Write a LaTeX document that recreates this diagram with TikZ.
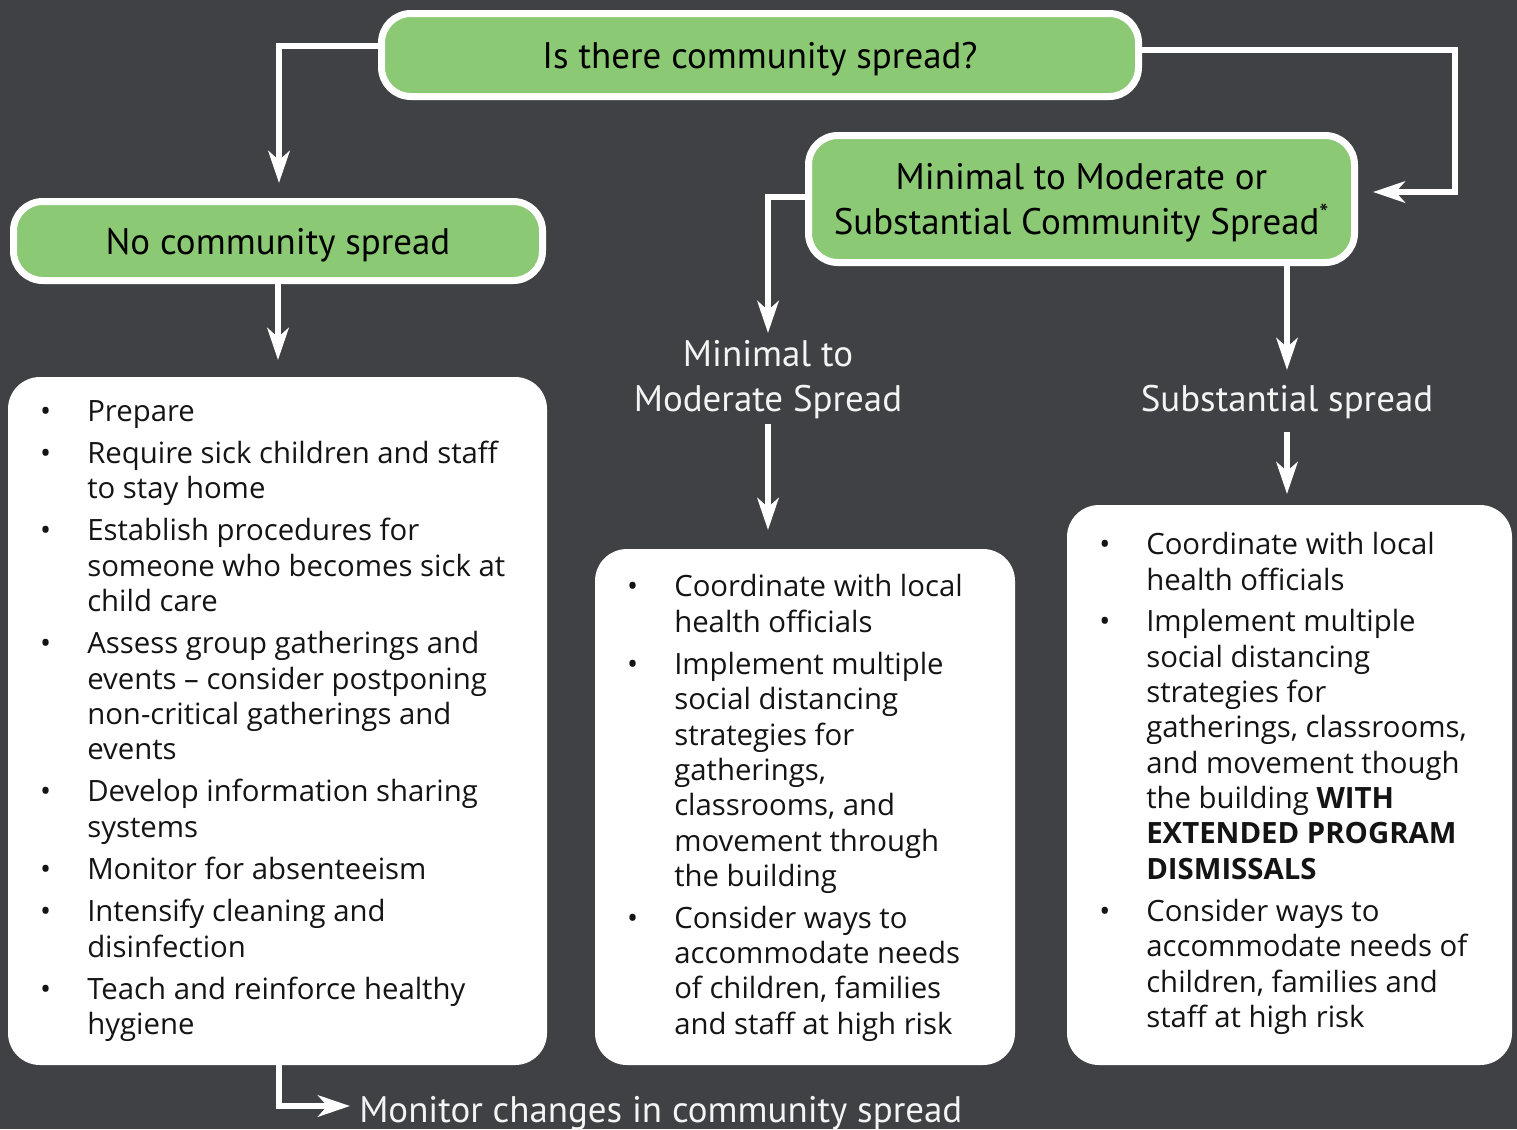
\documentclass[tikz,border=0pt]{standalone}
\usepackage{fontspec}
\setmainfont{Open Sans}
\newfontfamily\hfont{PT Sans}
\usetikzlibrary{arrows.meta,calc}
\definecolor{bg}{RGB}{64,65,69}
\definecolor{grn}{RGB}{139,201,117}
\definecolor{lbl}{RGB}{244,244,244}
\definecolor{txt}{RGB}{20,20,20}
\newcommand{\bul}{\llap{•\hspace{27pt}}}
\begin{document}
\begin{tikzpicture}[x=0.75pt,y=-0.75pt,
  gbox/.style={draw=white, line width=5.25pt, fill=grn, rounded corners=22pt, align=center,
     font=\hfont\fontsize{27.7}{33.75}\selectfont, text=black, inner sep=0pt, text depth=0pt},
  wbox/.style={fill=white, rounded corners=24pt, inner sep=0pt},
  arr/.style={draw=white, line width=4.5pt, -{Stealth[length=24pt,width=16pt,inset=7pt]}},
  item/.style={anchor=base west, align=left, inner sep=0pt, text=txt,
     font=\fontsize{22}{26.5}\selectfont},
  wlabel/.style={text=lbl, align=center, inner sep=0pt, font=\hfont\fontsize{27.7}{33.75}\selectfont}
]
\useasboundingbox (0,0) rectangle (1517,1129);
\fill[bg] (0,0) rectangle (1517,1129);

% green boxes
\node[gbox, minimum width=567.75pt, minimum height=62.25pt] (top) at (760,55) {Is there community spread?};
\node[gbox, minimum width=409.5pt, minimum height=95.25pt] (min) at (1081.5,199) {Minimal to Moderate or\\Substantial Community Spread\textsuperscript{*}};
\node[gbox, minimum width=396.75pt, minimum height=59.25pt] (nocs) at (278,241) {No community spread};

% white boxes
\node[wbox, minimum width=404.25pt, minimum height=516pt] (leftbox) at (277.5,721) {};
\node[wbox, minimum width=315pt, minimum height=387pt] (midbox) at (805,807) {};
\node[wbox, minimum width=333.75pt, minimum height=420pt] (rightbox) at (1289.5,785) {};

% labels (base = last line)
\node[wlabel, anchor=base] (mmlab) at (768,411) {Minimal to\\Moderate Spread};
\node[wlabel, anchor=base] (sslab) at (1287,411) {Substantial spread};
\node[wlabel, anchor=base west] (monlab) at (359,1122) {Monitor changes in community spread};

% coordinates for arrow ends
\coordinate (noTip) at (279,183);
\coordinate (rc) at (1455,50);
\coordinate (mmTip) at (768,333);
\coordinate (mmOut) at (768,424);
\coordinate (midTip) at (768,530);
\coordinate (ssTip) at (1287,370);
\coordinate (ssOut) at (1287,432);
\coordinate (rightTip) at (1287,494);
\coordinate (monTip) at (350,1106);

% connectors
\draw[arr] ($(top.west)+(0,-9)$) -| (noTip);
\draw[arr] (top.east |- rc) -- (rc) |- ($(min.east)+(15,-7)$);
\draw[arr] (nocs.south) -- ($(nocs.south)+(0,76)$);
\draw[arr] ($(min.west)+(0,-2)$) -| (mmTip);
\draw[arr] (mmOut) -- (midTip);
\draw[arr] (min.south -| ssTip) -- (ssTip);
\draw[arr] (ssOut) -- (rightTip);
\draw[arr] (leftbox.south -| noTip) |- (monTip);

% left box items (positions give the baseline of the last line)
\node[item] (l1) at (87,421) {\bul Prepare};
\node[item] (l2) at (87,498.6) {\bul Require sick children and staff\\to stay home};
\node[item] (l3) at (87,611.5) {\bul Establish procedures for\\someone who becomes sick at\\child care};
\node[item] (l4) at (87,759.7) {\bul Assess group gatherings and\\events – consider postponing\\non-critical gatherings and\\events};
\node[item] (l5) at (87,837.3) {\bul Develop information sharing\\systems};
\node[item] (l6) at (87,879.6) {\bul Monitor for absenteeism};
\node[item] (l7) at (87,957.2) {\bul Intensify cleaning and\\disinfection};
\node[item] (l8) at (87,1034.8) {\bul Teach and reinforce healthy\\hygiene};

% middle box items
\node[item] (m1) at (674,632.3) {\bul Coordinate with local\\health officials};
\node[item] (m2) at (674,886.4) {\bul Implement multiple\\social distancing\\strategies for\\gatherings,\\classrooms, and\\movement through\\the building};
\node[item] (m3) at (674,1034) {\bul Consider ways to\\accommodate needs\\of children, families\\and staff at high risk};

% right box items
\node[item] (r1) at (1146,590.3) {\bul Coordinate with local\\health officials};
\node[item] (r2) at (1146,879.2) {\bul Implement multiple\\social distancing\\strategies for\\gatherings, classrooms,\\and movement though\\the building \textbf{WITH}\\\textbf{EXTENDED PROGRAM}\\\textbf{DISMISSALS}};
\node[item] (r3) at (1146,1027.4) {\bul Consider ways to\\accommodate needs of\\children, families and\\staff at high risk};
\end{tikzpicture}
\end{document}
